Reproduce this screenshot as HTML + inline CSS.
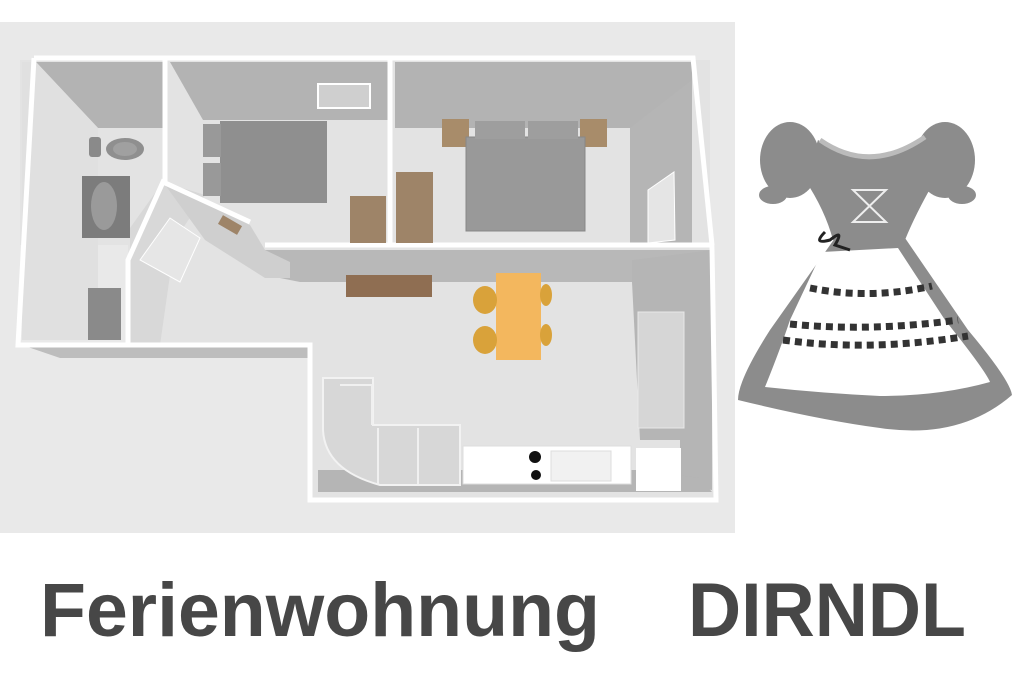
<!DOCTYPE html>
<html><head><meta charset="utf-8"><style>
html,body{margin:0;padding:0;background:#fff;width:1024px;height:675px;overflow:hidden}
svg{display:block}
</style></head><body>
<svg width="1024" height="675" viewBox="0 0 1024 675" xmlns="http://www.w3.org/2000/svg">
<rect x="0" y="0" width="1024" height="675" fill="#fff"/>
<rect x="0" y="22" width="735" height="511" fill="#e9e9e9"/>
<rect x="20" y="60" width="690" height="185" fill="#e3e3e3"/>
<polygon points="128,245 715,245 715,500 312,500 312,345 128,345" fill="#e3e3e3"/>
<polygon points="36,62 163,62 163,128 98,128" fill="#b3b3b3"/>
<polygon points="36,62 98,128 98,340 22,340 22,62" fill="#e0e0e0"/>
<polygon points="170,62 388,62 388,120 203,120" fill="#b3b3b3"/>
<polygon points="395,62 692,62 692,128 395,128" fill="#b3b3b3"/>
<polygon points="692,62 692,243 630,243 630,128 692,80" fill="#b5b5b5"/>
<polygon points="265,250 712,250 712,270 632,282 430,282 300,282 265,275" fill="#b8b8b8"/>
<polygon points="632,260 712,250 712,490 680,485 680,440 640,440 632,282" fill="#b5b5b5"/>
<polygon points="318,470 640,470 700,478 712,492 318,492" fill="#b5b5b5"/>
<polygon points="22,345 310,345 310,358 60,358" fill="#bdbdbd"/>
<polygon points="163,182 130,228 130,345 160,345 175,240 205,195" fill="#d8d8d8"/>
<polygon points="163,182 250,225 265,250 290,262 290,278 265,278 205,240" fill="#cfcfcf"/>
<polygon points="140,260 170,218 200,238 180,282" fill="#e6e6e6" stroke="#fff" stroke-width="1"/>
<g fill="none" stroke="#fff" stroke-width="5" stroke-linejoin="miter">
<polyline points="34,58 165,58 165,182"/>
<polyline points="165,58 693,58 712,245 716,500 310,500 310,345 18,345 34,58"/>
<line x1="390" y1="58" x2="390" y2="243"/>
<line x1="265" y1="245" x2="712" y2="245"/>
<polyline points="128,345 128,260 163,182 250,222"/>
</g>
<rect x="89" y="137" width="12" height="20" rx="3" fill="#8a8a8a"/>
<ellipse cx="125" cy="149" rx="19" ry="11" fill="#8f8f8f"/>
<ellipse cx="125" cy="149" rx="12" ry="7" fill="#a0a0a0"/>
<rect x="82" y="176" width="48" height="62" fill="#7c7c7c"/>
<ellipse cx="104" cy="206" rx="13" ry="24" fill="#9a9a9a"/>
<rect x="88" y="288" width="33" height="52" fill="#8a8a8a"/>
<rect x="318" y="84" width="52" height="24" fill="#cfcfcf" stroke="#fff" stroke-width="2"/>
<rect x="220" y="121" width="107" height="82" fill="#8f8f8f"/>
<rect x="203" y="124" width="18" height="33" fill="#999"/>
<rect x="203" y="163" width="18" height="33" fill="#999"/>
<rect x="350" y="196" width="36" height="47" fill="#9e8468"/>
<rect x="219" y="220" width="22" height="10" fill="#9e8468" transform="rotate(30 230 225)"/>
<rect x="396" y="172" width="37" height="71" fill="#9e8468"/>
<rect x="442" y="119" width="27" height="28" fill="#a88c6a"/>
<rect x="580" y="119" width="27" height="28" fill="#a88c6a"/>
<rect x="466" y="137" width="119" height="94" fill="#999" stroke="#888"/>
<rect x="475" y="121" width="50" height="18" fill="#9e9e9e"/>
<rect x="528" y="121" width="50" height="18" fill="#9e9e9e"/>
<polygon points="648,190 674,172 675,240 648,243" fill="#e5e5e5" stroke="#fff"/>
<rect x="346" y="275" width="86" height="22" fill="#8f6e52"/>
<rect x="496" y="273" width="45" height="87" fill="#f3b75e"/>
<ellipse cx="485" cy="300" rx="12" ry="14" fill="#d9a23a"/>
<ellipse cx="485" cy="340" rx="12" ry="14" fill="#d9a23a"/>
<ellipse cx="546" cy="295" rx="6" ry="11" fill="#d9a23a"/>
<ellipse cx="546" cy="335" rx="6" ry="11" fill="#d9a23a"/>
<rect x="638" y="312" width="46" height="116" fill="#d6d6d6" stroke="#e8e8e8"/>
<path d="M323,378 L373,378 L373,425 L460,425 L460,485 L380,485 Q325,470 323,430 Z" fill="#d7d7d7" stroke="#f2f2f2" stroke-width="2"/>
<path d="M340,385 L372,385 L372,425 M378,428 L378,484 M418,428 L418,484" stroke="#f0f0f0" stroke-width="2" fill="none"/>
<rect x="463" y="446" width="168" height="38" fill="#fff" stroke="#ddd"/>
<circle cx="535" cy="457" r="6" fill="#111"/>
<circle cx="536" cy="475" r="5" fill="#111"/>
<rect x="551" y="451" width="60" height="30" fill="#f1f1f1" stroke="#ddd"/>
<rect x="636" y="448" width="45" height="43" fill="#fff"/>
<g fill="#8c8c8c">
<ellipse cx="790" cy="160" rx="30" ry="38"/>
<ellipse cx="945" cy="160" rx="30" ry="38"/>
<ellipse cx="773" cy="195" rx="14" ry="9"/>
<ellipse cx="962" cy="195" rx="14" ry="9"/>
<path d="M818,140 Q870,180 925,135 L935,180 Q915,215 905,240 L833,240 Q825,210 805,180 Z"/>
<path d="M835,238 L905,238 L968,330 Q1010,380 1012,395 Q960,440 880,428 Q820,420 738,400 Q738,380 770,330 Z"/>
</g>
<path d="M822,252 L898,248 L945,320 Q985,370 990,382 Q940,396 880,396 Q820,393 765,387 Q780,350 790,320 Z" fill="#fff"/>
<path d="M820,140 Q870,175 925,137" stroke="#bbb" stroke-width="5" fill="none"/>
<path d="M853,190 L886,190 L853,222 L886,222 Z" fill="none" stroke="#eee" stroke-width="2"/>
<path d="M825,232 Q812,245 830,240 Q845,228 835,245 L850,250" stroke="#222" stroke-width="3" fill="none"/>
<g stroke="#333" stroke-width="7" stroke-dasharray="7 5" fill="none">
<path d="M810,288 Q870,300 932,286"/>
<path d="M790,324 Q870,332 958,320"/>
<path d="M783,340 Q870,352 968,336"/>
</g>
<text x="40" y="636" textLength="560" lengthAdjust="spacingAndGlyphs" font-family="Liberation Sans, sans-serif" font-weight="bold" font-size="76" fill="#474747">Ferienwohnung</text>
<text x="688" y="636" textLength="278" lengthAdjust="spacingAndGlyphs" font-family="Liberation Sans, sans-serif" font-weight="bold" font-size="76" fill="#474747">DIRNDL</text>
</svg>
</body></html>
